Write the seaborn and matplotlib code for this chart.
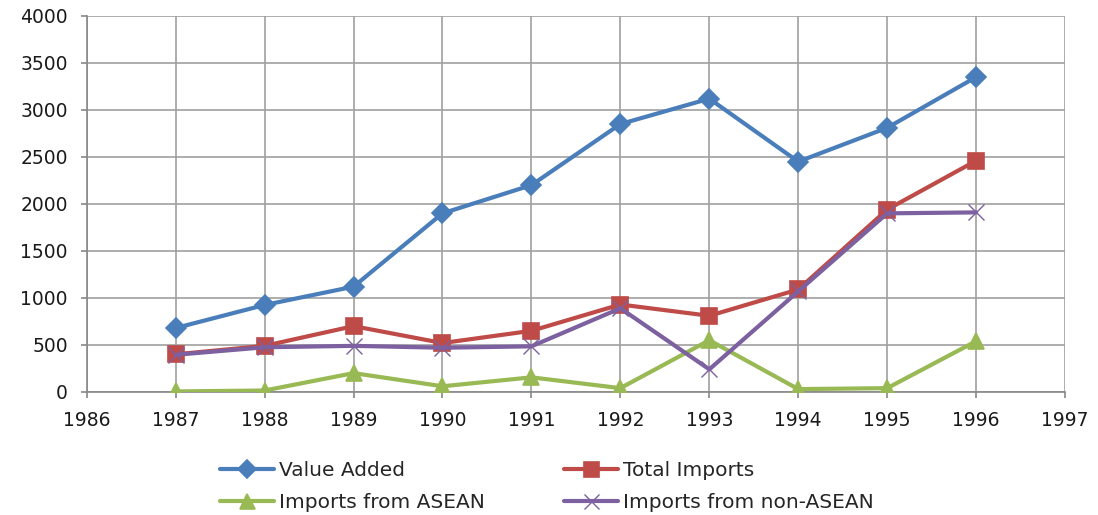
import numpy as np
import pandas as pd
import matplotlib
matplotlib.use("Agg")
import matplotlib.pyplot as plt
import seaborn as sns

years = [1987, 1988, 1989, 1990, 1991, 1992, 1993, 1994, 1995, 1996]
value_added = [680, 925, 1120, 1900, 2200, 2850, 3120, 2450, 2810, 3350]
total_imports = [400, 490, 700, 520, 650, 930, 810, 1090, 1940, 2460]
imports_asean = [5, 15, 200, 60, 155, 40, 550, 30, 40, 540]
imports_non_asean = [395, 475, 490, 470, 485, 890, 240, 1070, 1900, 1910]

series_names = ["Value Added", "Total Imports", "Imports from ASEAN", "Imports from non-ASEAN"]
series_values = [value_added, total_imports, imports_asean, imports_non_asean]
colors = ["#4A7EBB", "#BE4B48", "#98B954", "#7D60A0"]
markers = ["D", "s", "^", "x"]
msizes = [10.5, 12, 12, 12]

df = pd.concat([pd.DataFrame({"Year": years, "Value": v, "Series": n})
                for n, v in zip(series_names, series_values)], ignore_index=True)

sns.set_theme(style="white")
plt.rcParams['font.family'] = ['DejaVu Sans']

fig = plt.figure(figsize=(10.98, 5.15), dpi=100)
ax = fig.add_axes([0.079, 0.239, 0.891, 0.730])

for name, col, mk, ms in zip(series_names, colors, markers, msizes):
    sub = df[df["Series"] == name]
    sns.lineplot(data=sub, x="Year", y="Value", ax=ax, color=col, linewidth=3,
                 marker=mk, markersize=ms, markeredgecolor=col,
                 markeredgewidth=1.2 if mk != "x" else 1.0, label=name,
                 zorder=3)

ax.set_xlim(1986, 1997)
ax.set_ylim(0, 4000)
ax.set_xticks(range(1986, 1998))
ax.set_yticks(range(0, 4001, 500))
ax.grid(True, color="#a0a0a0", linewidth=1.2, zorder=0)
ax.set_axisbelow(True)
for s in ["top", "right"]:
    ax.spines[s].set_visible(False)
for s in ["left", "bottom"]:
    ax.spines[s].set_color("#888888")
    ax.spines[s].set_linewidth(1.2)
ax.tick_params(axis="x", direction="out", length=4, width=1.2, color="#888888",
               labelsize=13.5, labelcolor="#1a1a1a", bottom=True, pad=10)
ax.tick_params(axis="y", direction="out", length=4.5, width=1.2, color="#888888",
               labelsize=13.5, labelcolor="#1a1a1a", left=True, pad=9)
ax.set_xlabel("")
ax.set_ylabel("")

handles, labels = ax.get_legend_handles_labels()
ax.get_legend().remove()
order = [0, 2, 1, 3]
fig.legend([handles[i] for i in order], [labels[i] for i in order],
           loc="upper left", bbox_to_anchor=(0.2004, 0.105),
           ncol=2, frameon=False, fontsize=14.5, handlelength=2.7,
           columnspacing=3.9, labelspacing=0.66, handletextpad=0.25,
           borderpad=0, borderaxespad=0, markerscale=0.9)

fig.savefig("out.png", dpi=100)
